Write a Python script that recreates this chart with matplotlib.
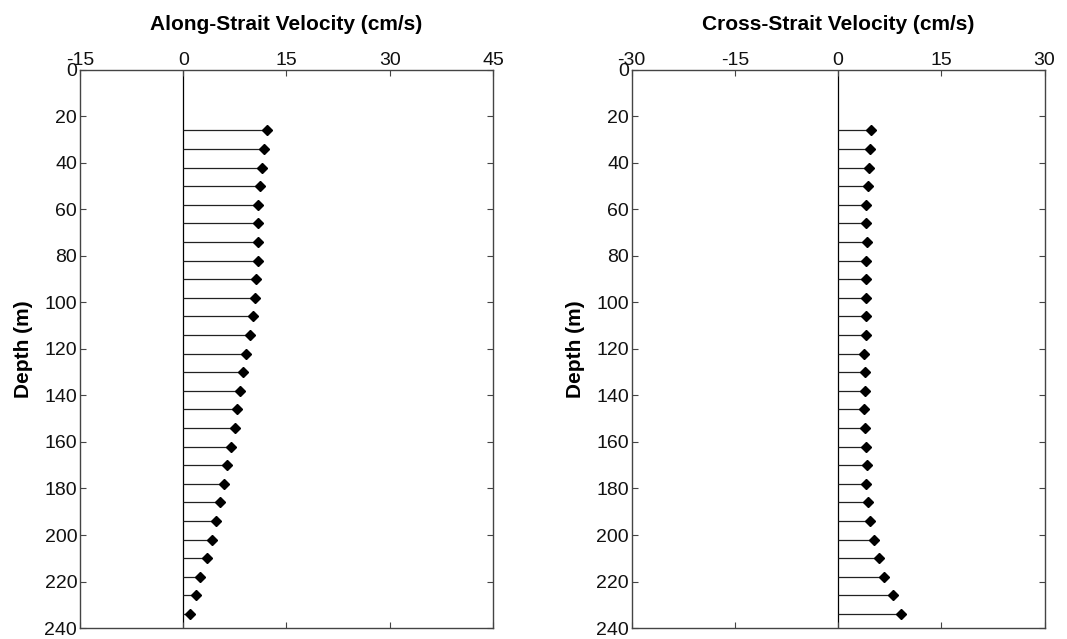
import numpy as np
import matplotlib
matplotlib.use("Agg")
import matplotlib.pyplot as plt

plt.rcParams['font.family'] = ['Liberation Sans', 'DejaVu Sans']
plt.rcParams['axes.unicode_minus'] = False

depth = [26, 34, 42, 50, 58, 66, 74, 82, 90, 98, 106, 114, 122, 130, 138,
         146, 154, 162, 170, 178, 186, 194, 202, 210, 218, 226, 234]
along = [12.1, 11.8, 11.5, 11.2, 10.9, 10.8, 10.8, 10.9, 10.6, 10.4, 10.2, 9.7, 9.1,
         8.7, 8.2, 7.8, 7.5, 6.9, 6.3, 5.9, 5.4, 4.8, 4.2, 3.4, 2.4, 1.9, 1.0]
cross = [4.8, 4.6, 4.5, 4.3, 4.1, 4.1, 4.2, 4.1, 4.1, 4.1, 4.0, 4.0, 3.8,
         3.9, 3.9, 3.8, 3.9, 4.1, 4.2, 4.1, 4.3, 4.6, 5.2, 6.0, 6.7, 8.0, 9.2]

titles = ["Along-Strait Velocity (cm/s)", "Cross-Strait Velocity (cm/s)"]
xticks_list = [[-15, 0, 15, 30, 45], [-30, -15, 0, 15, 30]]
yticks = list(range(0, 241, 20))

fig = plt.figure(figsize=(10.67, 6.39), dpi=100)
axes = [fig.add_axes([0.075, 0.0172, 0.387, 0.8733]),
        fig.add_axes([0.592, 0.0172, 0.387, 0.8733])]

spine_col = '#444444'
for ax, vals, title, xt in zip(axes, [along, cross], titles, xticks_list):
    ax.axvline(0, color='black', lw=0.9, zorder=1)
    ax.hlines(depth, 0, vals, color='#222222', lw=0.9, zorder=2)
    ax.plot(vals, depth, linestyle='none', marker='D', color='black',
            markersize=5.5, zorder=3)
    ax.set_xlim(xt[0], xt[-1])
    ax.set_ylim(240, 0)
    ax.set_xticks(xt)
    ax.set_yticks(yticks)
    ax.xaxis.tick_top()
    ax.tick_params(axis='both', direction='in', length=4, width=0.8,
                   colors=spine_col, labelcolor='#111111', labelsize=14,
                   top=True, bottom=True, left=True, right=True)
    ax.tick_params(axis='x', pad=1, labelbottom=False, labeltop=True)
    ax.tick_params(axis='y', pad=2)
    for s in ax.spines.values():
        s.set_color(spine_col)
        s.set_linewidth(1.0)
    ax.set_ylabel("Depth (m)", fontsize=15, fontweight='bold', labelpad=8)
    ax.set_title(title, fontsize=15, fontweight='bold', pad=29)

fig.savefig("out.png", dpi=100)
